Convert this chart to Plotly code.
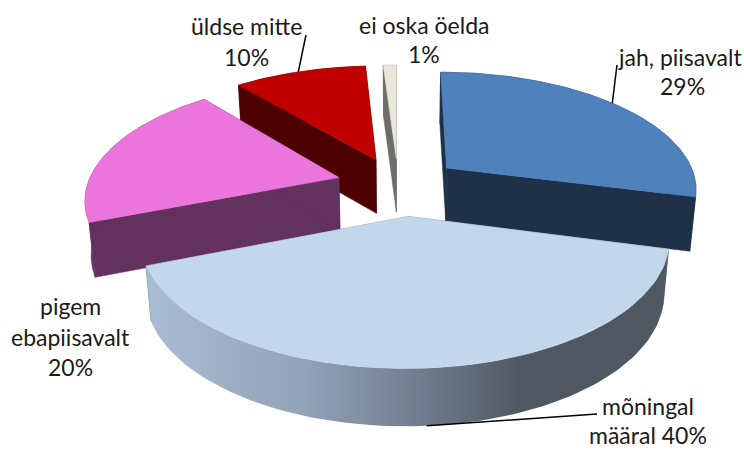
import numpy as np
import plotly.graph_objects as go

categories = ["jah, piisavalt", "mõningal määral", "pigem ebapiisavalt", "üldse mitte", "ei oska öelda"]
values = [29, 40, 20, 10, 1]
label_lines = [["jah, piisavalt", "29%"], ["mõningal", "määral 40%"], ["pigem", "ebapiisavalt", "20%"],
               ["üldse mitte", "10%"], ["ei oska öelda", "1%"]]

# styling
top_colors = ["#4f81bd", "#c3d7ec", "#ec75dd", "#c00000", "#e9e7dc"]
wall_colors = ["#1e3148", "#68778a", "#63315e", "#4d0000", "#6e6e68"]
label_pos = [[(680, 57), (682, 86)], [(648, 406), (648, 435)], [(70, 306), (70, 337), (70, 367)],
             [(246, 26), (246, 57)], [(424, 25), (424, 54)]]
wall_gradient = [[0, "#aabcd4"], [0.3, "#93a3b8"], [0.55, "#6c7888"], [0.72, "#4f5862"], [1, "#4f5862"]]
CX, CY, RX, H, K, E, D = 399, 183.4, 255, 116.6, 0.167, 0.22, 54
SHRINK = 0.98
# per-slice layout nudges: x shift, y shift, radius scale (x), extra apex x shift
NUDGE = [(5, 0, 0.982, 0), (2, 6.5, 0.985, 4), (-7, 0.5, 0.985, 0), (-3, -0.5, 1.0, 0), (-1, 0, 1.0, 0)]


def project(u, v, z=0.0, i=0, apex_pt=False):
    dx, dy, rs, adx = NUDGE[i]
    u, v = np.asarray(u, float), np.asarray(v, float)
    s = 1 / (1 + K * v)
    x = CX + dx + RX * rs * u * s * (1 - (1 - SHRINK) * z)
    if apex_pt:
        x = x + adx
    return x, CY + dy - H * v * s + D * z * s ** 0.3


total = sum(values)
edges = np.cumsum([0] + values) / total * 2 * np.pi


def slice_geom(i):
    a0, a1 = edges[i], edges[i + 1]
    mid = (a0 + a1) / 2
    ou, ov = E * np.sin(mid), E * np.cos(mid)
    return a0, a1, ou, ov


def arc(i, z=0.0, n=90):
    a0, a1, ou, ov = slice_geom(i)
    t = np.linspace(a0, a1, n)
    return project(ou + np.sin(t), ov + np.cos(t), z, i)


def apex(i, z=0.0):
    _, _, ou, ov = slice_geom(i)
    return project(ou, ov, z, i, apex_pt=True)


def point_on_arc(i, angle_deg, z=0.0):
    _, _, ou, ov = slice_geom(i)
    t = np.radians(angle_deg)
    return project(ou + np.sin(t), ov + np.cos(t), z, i)


fig = go.Figure()


def poly(xs, ys, color, **kw):
    fig.add_trace(go.Scatter(x=list(xs), y=list(ys), mode="lines", fill="toself", fillcolor=color,
                             line=dict(color=color, width=0.5), hoverinfo="skip", showlegend=False, **kw))


for i in [4, 3, 0, 2, 1]:
    ax, ay = apex(i)
    bx, by = apex(i, 1)
    tx, ty = arc(i)
    ux, uy = arc(i, 1)
    # radial walls
    poly([ax, tx[0], ux[0], bx, ax], [ay, ty[0], uy[0], by, ay], wall_colors[i])
    poly([ax, tx[-1], ux[-1], bx, ax], [ay, ty[-1], uy[-1], by, ay], wall_colors[i])
    # outer wall
    wx = np.concatenate([tx, ux[::-1], tx[:1]])
    wy = np.concatenate([ty, uy[::-1], ty[:1]])
    if i == 1:
        fig.add_trace(go.Scatter(x=wx, y=wy, mode="lines", fill="toself", line=dict(width=0),
                                 fillgradient=dict(type="horizontal", colorscale=wall_gradient,
                                                   start=float(wx.min()), stop=float(wx.max())),
                                 hoverinfo="skip", showlegend=False))
    else:
        poly(wx, wy, wall_colors[i])
    # top
    poly(np.concatenate([[ax], tx, [ax]]), np.concatenate([[ay], ty, [ay]]), top_colors[i])

# leader lines
leaders = [(0, 50, 0, (617, 65)), (3, 338, 0, (306, 35)), (1, 176, 1, (597, 414))]
for i, ang, z, end in leaders:
    px, py = point_on_arc(i, ang, z)
    fig.add_trace(go.Scatter(x=[float(px), end[0]], y=[float(py), end[1]], mode="lines",
                             line=dict(color="black", width=1.5), hoverinfo="skip", showlegend=False))

annotations = []
for lines, positions in zip(label_lines, label_pos):
    for line, (x, y) in zip(lines, positions):
        annotations.append(dict(x=x, y=y, text=line, showarrow=False, xanchor="center", yanchor="middle",
                                font=dict(family="Lato", size=23, color="#1a1a1a")))

fig.update_layout(
    width=744, height=450, margin=dict(l=0, r=0, t=0, b=0),
    paper_bgcolor="white", plot_bgcolor="white", showlegend=False,
    xaxis=dict(range=[0, 744], visible=False, fixedrange=True),
    yaxis=dict(range=[450, 0], visible=False, fixedrange=True),
    annotations=annotations,
)
fig.write_html("out.html", config={"displayModeBar": False},
               post_script="document.body.style.margin='0';document.body.style.overflow='hidden';")
